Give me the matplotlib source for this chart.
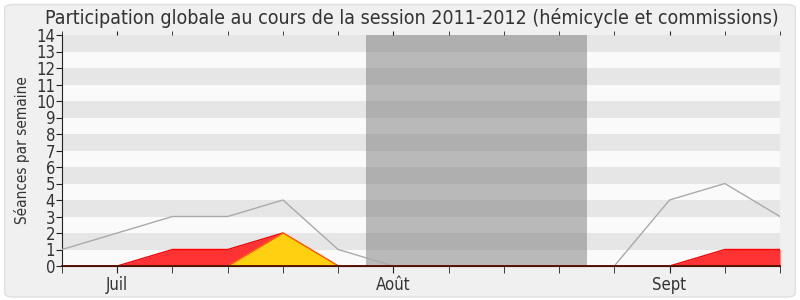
import matplotlib
matplotlib.use("Agg")
import matplotlib.pyplot as plt
from matplotlib.patches import FancyBboxPatch
import numpy as np

weeks = list(range(14))
total = [1, 2, 3, 3, 4, 1, 0, 0, 0, 0, 0, 4, 5, 3]
red = [0, 0, 1, 1, 2, 0, 0, 0, 0, 0, 0, 0, 1, 1]
yellow = [0, 0, 0, 0, 2, 0, 0, 0, 0, 0, 0, 0, 0, 0]
month_ticks = [1, 6, 11]
month_labels = ["Juil", "Août", "Sept"]
vacation = (5.5, 9.5)
title = "Participation globale au cours de la session 2011-2012 (hémicycle et commissions)"
ylabel = "Séances par semaine"

plt.rcParams['font.family'] = ['DejaVu Sans']
plt.rcParams['font.stretch'] = 'condensed'
fig = plt.figure(figsize=(8, 3), dpi=100)
fig.patch.set_facecolor('#ffffff')
bg = FancyBboxPatch((0.006, 0.01), 0.988, 0.975, boxstyle="round,pad=0,rounding_size=0.012",
                    transform=fig.transFigure, facecolor='#f0f0f0', edgecolor='#e0e0e0', lw=1, zorder=-5)
fig.patches.append(bg)

ax = fig.add_axes([62/800, 34/300, (780-62)/800, (266-35)/300])
ax.set_zorder(2)
ax.set_xlim(0, 13)
ax.set_ylim(0, 14)
for i in range(14):
    ax.axhspan(i, i+1, color='#e6e6e6' if i % 2 == 1 else '#fafafa', lw=0, zorder=0)
ax.axvspan(vacation[0], vacation[1], color='#7a7a7a', alpha=0.5, lw=0, zorder=1)

x = np.array(weeks)
ax.plot(x, total, color='#aaaaaa', lw=1, zorder=3)
ax.fill_between(x, 0, red, color='#ff3333', lw=0, zorder=2)
ax.plot(x, red, color='#ff0000', lw=1, zorder=2.1)
ax.fill_between(x, 0, yellow, color='#ffd00f', lw=0, zorder=2.2)
ax.plot(x, yellow, color='#ff6600', lw=0.8, zorder=2.3)
ax.plot(x, [0]*14, color='#550e00', lw=1.3, zorder=4, clip_on=False)

ax.set_yticks(range(15))
ax.set_xticks(weeks, minor=True)
ax.set_xticks(month_ticks)
ax.set_xticklabels(month_labels)
ax.tick_params(axis='x', which='both', direction='out', length=5, color='#222222', top=True, labelsize=12, labelcolor='#333333', pad=2)
ax.tick_params(axis='y', direction='out', length=4, color='#222222', labelsize=12, labelcolor='#333333', pad=1)
for t in ax.xaxis.get_major_ticks() + ax.xaxis.get_minor_ticks():
    t.tick2line.set_markersize(3)
    t.tick2line.set_color('#222222')
for side in ['top', 'right']:
    ax.spines[side].set_visible(False)
ax.spines['left'].set_color('#222222')
ax.spines['bottom'].set_color('#222222')
ax.set_ylabel(ylabel, fontsize=11, color='#333333', labelpad=4)
fig.text(0.515, 0.975, title, ha='center', va='top', fontsize=14, color='#333333')

fig.savefig('out.png', dpi=100, facecolor=fig.get_facecolor())
